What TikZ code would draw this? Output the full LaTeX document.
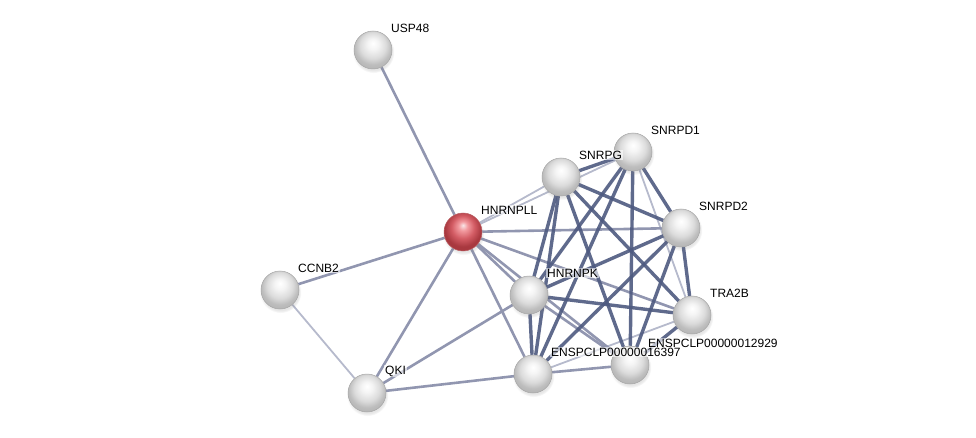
\documentclass[tikz,border=0pt]{standalone}
\usepackage{fontspec}
\setmainfont{Liberation Sans}
\usetikzlibrary{shadows,backgrounds}

\definecolor{edgedark}{HTML}{4E5A80}
\definecolor{edgemid}{HTML}{9196B0}
\definecolor{edgelight}{HTML}{B6BACC}
\definecolor{redlite}{HTML}{F29A9F}
\definecolor{redbody}{HTML}{D35C64}
\definecolor{reddark}{HTML}{A8383F}

\pgfdeclareradialshading{grayball}{\pgfpoint{0bp}{9bp}}{%
  color(0bp)=(white); color(7bp)=(white!96!black); color(17bp)=(white!86!black);
  color(24bp)=(white!74!black); color(50bp)=(white!60!black)}
\pgfdeclareradialshading{redball}{\pgfpoint{0bp}{9bp}}{%
  color(0bp)=(white!85!redbody); color(6bp)=(redlite); color(15bp)=(redbody);
  color(24bp)=(reddark); color(50bp)=(reddark)}

\tikzset{
  prot/.style={circle, minimum size=38pt, inner sep=0pt, shading=grayball,
    draw=black!35, line width=0.5pt,
    circular drop shadow={shadow xshift=0.5pt, shadow yshift=-2pt, opacity=0.2}},
  query/.style={prot, shading=redball, draw=reddark!80},
  lbl/.style={anchor=west, font=\fontsize{12}{13}\selectfont, inner sep=1pt,
    fill=white, fill opacity=0.6, text opacity=1},
  weak/.style={edgelight, line width=1.8pt},
  mid/.style={edgemid, line width=2.6pt},
  strong/.style={edgedark, line width=3.4pt, draw opacity=0.9},
}

\begin{document}
\begin{tikzpicture}[x=1pt, y=-1pt]
    \useasboundingbox (0,0) rectangle (976,438);

    % Proteins
    \node[prot]  (usp48)   at (373,50)  {};
    \node[query] (hnrnpll) at (463,232) {};
    \node[prot]  (ccnb2)   at (280,290) {};
    \node[prot]  (qki)     at (367,393) {};
    \node[prot]  (snrpg)   at (561,177) {};
    \node[prot]  (snrpd1)  at (633,152) {};
    \node[prot]  (snrpd2)  at (681,228) {};
    \node[prot]  (hnrnpk)  at (529,295) {};
    \node[prot]  (tra2b)   at (692,315) {};
    \node[prot]  (e12929)  at (630,365) {};
    \node[prot]  (e16397)  at (533,374) {};

    % Labels
    \node[lbl] (usp48-t)   at ([xshift=17pt,yshift=22pt]usp48.center)   {USP48};
    \node[lbl] (hnrnpll-t) at ([xshift=17pt,yshift=22pt]hnrnpll.center) {HNRNPLL};
    \node[lbl] (ccnb2-t)   at ([xshift=17pt,yshift=22pt]ccnb2.center)   {CCNB2};
    \node[lbl] (qki-t)     at ([xshift=17pt,yshift=22pt]qki.center)     {QKI};
    \node[lbl] (snrpg-t)   at ([xshift=17pt,yshift=22pt]snrpg.center)   {SNRPG};
    \node[lbl] (snrpd1-t)  at ([xshift=17pt,yshift=22pt]snrpd1.center)  {SNRPD1};
    \node[lbl] (snrpd2-t)  at ([xshift=17pt,yshift=22pt]snrpd2.center)  {SNRPD2};
    \node[lbl] (hnrnpk-t)  at ([xshift=17pt,yshift=22pt]hnrnpk.center)  {HNRNPK};
    \node[lbl] (tra2b-t)   at ([xshift=17pt,yshift=22pt]tra2b.center)   {TRA2B};
    \node[lbl] (e12929-t)  at ([xshift=17pt,yshift=22pt]e12929.center)  {ENSPCLP00000012929};
    \node[lbl] (e16397-t)  at ([xshift=17pt,yshift=22pt]e16397.center)  {ENSPCLP00000016397};

    % Interactions
    \begin{pgfonlayer}{background}
    \draw[weak] (ccnb2) -- (qki);
    \draw[weak] (hnrnpll) -- (snrpd1);
    \draw[weak] (hnrnpll) -- (snrpg);
    \draw[weak] (snrpd1) -- (tra2b);
    \draw[weak] (tra2b) -- (e16397);

    \draw[mid] (usp48) -- (hnrnpll);
    \draw[mid] (hnrnpll) -- (ccnb2);
    \draw[mid] (hnrnpll) -- (qki);
    \draw[mid] (hnrnpll) -- (snrpd2);
    \draw[mid] (hnrnpll) -- (hnrnpk);
    \draw[mid] (hnrnpll) -- (e16397);
    \draw[mid] (hnrnpll) -- (tra2b);
    \draw[mid] (hnrnpll) -- (e12929);
    \draw[mid] (qki) -- (hnrnpk);
    \draw[mid] (qki) -- (e16397);
    \draw[mid] (e16397) -- (e12929);
    \draw[mid] (hnrnpk) -- (e12929);

    \draw[strong] (snrpg) -- (snrpd1);
    \draw[strong] (snrpg) -- (snrpd2);
    \draw[strong] (snrpg) -- (hnrnpk);
    \draw[strong] (snrpg) -- (e16397);
    \draw[strong] (snrpg) -- (tra2b);
    \draw[strong] (snrpg) -- (e12929);
    \draw[strong] (snrpd1) -- (snrpd2);
    \draw[strong] (snrpd1) -- (hnrnpk);
    \draw[strong] (snrpd1) -- (e16397);
    \draw[strong] (snrpd1) -- (e12929);
    \draw[strong] (snrpd2) -- (hnrnpk);
    \draw[strong] (snrpd2) -- (e16397);
    \draw[strong] (snrpd2) -- (tra2b);
    \draw[strong] (snrpd2) -- (e12929);
    \draw[strong] (hnrnpk) -- (tra2b);
    \draw[strong] (hnrnpk) -- (e16397);
    \draw[strong] (tra2b) -- (e12929);
    \end{pgfonlayer}
\end{tikzpicture}
\end{document}
